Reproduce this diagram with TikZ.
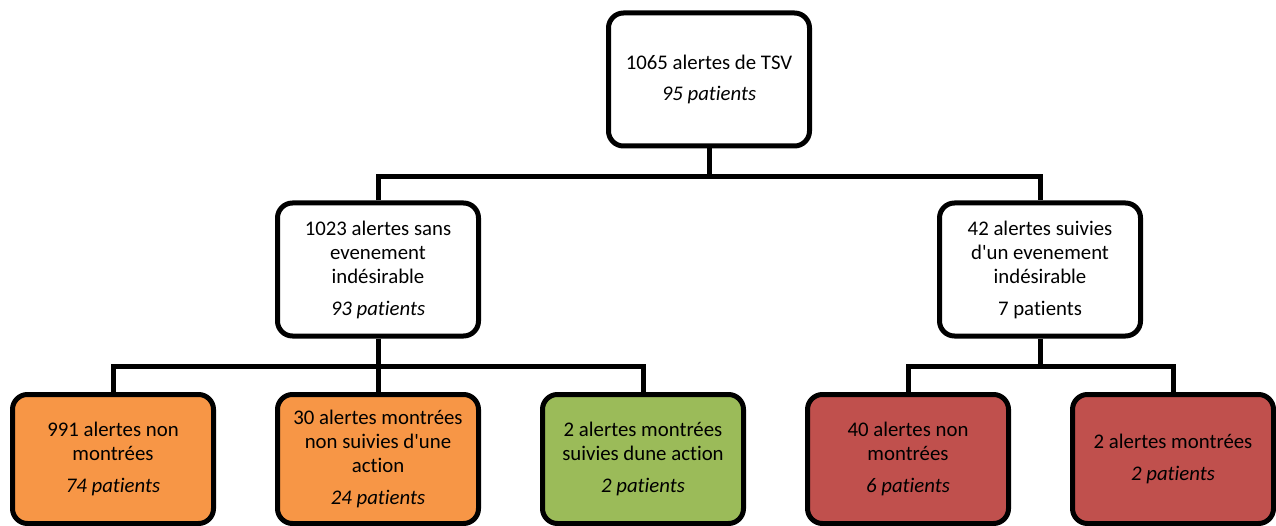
\documentclass[tikz,border=0pt]{standalone}
\usepackage{fontspec}
\newfontfamily\calibri{Carlito}[Ligatures=NoCommon]
\definecolor{boxorange}{HTML}{F79646}
\definecolor{boxgreen}{HTML}{9BBB59}
\definecolor{boxred}{HTML}{C0504D}
\begin{document}
\begin{tikzpicture}[x=1pt,y=-1pt,
  box/.style={draw=black, line width=5pt, rounded corners=15pt, minimum width=201pt,
    align=center, font=\calibri\fontsize{20.8}{24}\selectfont, inner sep=2pt, fill=white},
  link/.style={draw=black, line width=5pt}]
\useasboundingbox (0,0) rectangle (1276,526);
\node[box, minimum height=133pt] (top) at (709,79.5) {1065 alertes de TSV\\[7pt]\textit{95 patients}};
\node[box, minimum height=133pt] (left) at (378,269.5) {1023 alertes sans\\evenement\\indésirable\\[8pt]\textit{93 patients}};
\node[box, minimum height=133pt] (right) at (1040,269.5) {42 alertes suivies\\d'un evenement\\indésirable\\[8pt]7 patients};
\node[box, minimum height=129pt, fill=boxorange] (a) at (113,459) {991 alertes non\\montrées\\[8pt]\textit{74 patients}};
\node[box, minimum height=129pt, fill=boxorange] (b) at (378,459) {30 alertes montrées\\non suivies d'une\\action\\[8pt]\textit{24 patients}};
\node[box, minimum height=129pt, fill=boxgreen] (c) at (643,459) {2 alertes montrées\\suivies dune action\\[8pt]\textit{2 patients}};
\node[box, minimum height=129pt, fill=boxred] (d) at (908,459) {40 alertes non\\montrées\\[8pt]\textit{6 patients}};
\node[box, minimum height=129pt, fill=boxred] (e) at (1173,459) {2 alertes montrées\\[8pt]\textit{2 patients}};
\coordinate (bus1) at (709,177);
\coordinate (bus2) at (378,366);
\coordinate (bus3) at (1040,366);
\draw[link] (top.south) -- (bus1);
\draw[link] (left.north) |- (bus1) -| (right.north);
\draw[link] (left.south) -- (bus2);
\draw[link] (a.north) |- (bus2) -| (c.north);
\draw[link] (b.north) -- (bus2);
\draw[link] (right.south) -- (bus3);
\draw[link] (d.north) |- (bus3) -| (e.north);
\end{tikzpicture}
\end{document}
